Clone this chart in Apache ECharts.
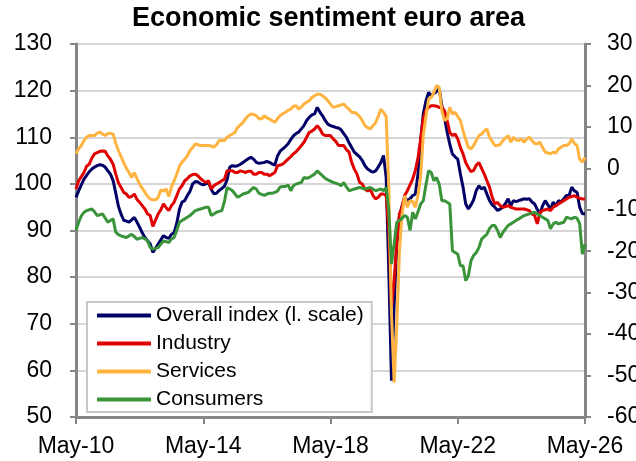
<!DOCTYPE html>
<html>
<head>
<meta charset="utf-8">
<script src="https://cdn.jsdelivr.net/npm/echarts@6.0.0/dist/echarts.min.js"></script>
<style>
  html, body { margin: 0; padding: 0; background: #fff; }
  #chart { width: 636px; height: 461px; }
</style>
</head>
<body>
<div id="chart"></div>
<script>
// monthly, May-10 .. May-26
var monthNames = ['Jan', 'Feb', 'Mar', 'Apr', 'May', 'Jun', 'Jul', 'Aug', 'Sep', 'Oct', 'Nov', 'Dec']
var categories = []
for (var i = 0; i < 193; i++) {
    var k = 4 + i
    categories.push(monthNames[k % 12] + '-' + String(10 + Math.floor(k / 12)).padStart(2, '0'))
}

// overall index (left scale)
var overall = [
    97.1, 98.5, 99.8, 101.0, 101.8, 102.6, 103.2, 103.6,
    103.9, 104.1, 104.0, 103.6, 102.8, 102.1, 100.7, 98.0, 95.2, 93.5, 92.2, 92.0,
    91.8, 92.3, 92.8, 91.8, 90.7, 89.5, 88.5, 87.8, 87.1, 85.3, 86.2, 87.1,
    88.0, 88.9, 88.5, 88.3, 89.2, 89.5, 91.5, 94.5, 96.1, 96.4, 97.5, 98.4,
    100.0, 100.5, 100.4, 100.0, 99.8, 100.0, 100.3, 98.8, 97.9, 98.0, 98.6, 99.0,
    99.5, 100.9, 103.6, 103.9, 103.8, 103.9, 104.2, 104.6, 105.0, 105.4, 105.7, 105.3,
    104.6, 104.4, 104.5, 104.6, 104.8, 104.6, 104.3, 104.0, 106.0, 107.0, 107.5, 108.0,
    108.6, 109.5, 110.3, 110.8, 111.1, 111.8, 112.5, 113.6, 114.3, 114.8, 115.0, 116.4,
    115.4, 114.6, 113.6, 112.8, 112.5, 112.3, 112.1, 112.0, 111.6, 110.8, 110.0, 108.8,
    107.8, 106.8, 106.3, 105.8, 105.0, 103.9, 103.2, 102.8, 102.5, 102.8, 103.6, 104.6,
    106.1, 101.4, 81.0, 57.8, 74.0, 87.0, 93.0, 95.3, 97.1, 96.4, 96.8, 97.5,
    97.8, 102.1, 109.3, 115.0, 117.8, 119.6, 118.9, 119.4, 119.8, 120.4, 116.8, 114.3,
    111.1, 108.5, 106.4, 105.8, 105.3, 102.1, 99.3, 95.7, 94.6, 95.5, 96.6, 98.6,
    99.6, 98.9, 99.3, 97.8, 96.4, 95.5, 95.0, 94.3, 94.6, 95.0, 95.8, 96.8,
    95.3, 96.4, 96.2, 96.4, 96.6, 96.8, 96.7, 96.8, 96.1, 95.7, 94.5, 93.6,
    95.3, 96.4, 95.5, 94.6, 96.1, 95.3, 96.4, 96.1, 96.8, 97.5, 97.5, 99.3,
    98.5, 98.2, 95.0, 93.6, 93.6
]

// balances (right scale)
var industry = [
    -5.0, -3.0, -2.0, -1.0, 0.5, 1.0, 2.5, 3.5,
    3.8, 4.1, 4.2, 4.1, 3.0, 2.2, 1.0, -1.4, -3.5, -4.6, -5.8, -6.2,
    -7.0, -6.8, -6.2, -7.5, -8.2, -9.0, -9.8, -11.0, -11.4, -14.0, -12.5, -11.0,
    -10.0, -8.6, -9.5, -10.2, -9.0, -8.2, -6.6, -5.0, -4.2, -3.0, -2.5, -1.8,
    -1.5, -1.4, -1.8, -2.5, -3.0, -3.4, -3.0, -5.0, -4.2, -3.8, -3.4, -3.0,
    -2.6, -0.6, -0.6, -0.6, -1.0, -1.0, -0.6, -0.8, -1.0, -0.7, -0.7, -1.4,
    -1.4, -1.0, -1.0, -1.4, -1.4, -1.8, -1.4, -1.0, 0.6, 0.8, 1.0, 1.6,
    2.2, 2.8, 3.5, 4.0, 4.7, 5.5, 6.3, 7.5, 8.7, 9.0, 9.5, 10.3,
    9.5, 8.3, 7.9, 7.9, 7.9, 7.1, 6.5, 5.5, 5.5, 5.5, 4.5, 3.9,
    1.4, -0.2, -1.4, -3.4, -3.8, -5.0, -5.5, -5.0, -6.5, -7.4, -7.0, -6.2,
    -6.2, -6.6, -15.0, -33.5, -27.0, -18.0, -11.0, -9.4, -6.5, -5.4, -4.0, -2.6,
    -0.5, 2.5, 7.0, 12.0, 14.0, 14.7, 15.1, 15.1, 15.0, 14.7, 14.7, 13.9,
    11.5, 8.7, 7.9, 8.3, 7.1, 5.0, 3.5, 1.4, 0.2, -0.8, -0.5, 0.8,
    1.4, 0.0, -1.4, -3.0, -4.6, -7.0, -8.6, -8.2, -9.0, -9.4, -9.2, -9.0,
    -9.4, -9.6, -9.8, -9.8, -9.8, -9.8, -10.0, -10.2, -11.0, -11.4, -13.4, -10.6,
    -10.2, -10.0, -9.8, -10.2, -9.4, -9.0, -8.6, -8.2, -7.8, -7.4, -7.0, -6.8,
    -6.6, -7.0, -7.2, -7.4, -7.4
]

var services = [
    3.5, 4.7, 5.5, 6.7, 7.5, 7.9, 7.9, 7.9,
    8.5, 8.7, 8.3, 7.9, 8.4, 8.4, 8.3, 6.0, 4.3, 2.8, 1.4, 0.0,
    -1.0, -2.2, -1.0, -2.5, -3.8, -4.8, -5.8, -6.8, -7.4, -7.6, -7.6, -7.0,
    -5.2, -5.5, -5.0, -6.8, -4.5, -3.0, -1.4, 0.5, 1.5, 2.2, 3.0, 4.3,
    5.0, 5.9, 5.7, 5.5, 5.5, 5.5, 5.5, 5.4, 5.1, 5.7, 6.7, 6.7,
    6.7, 7.5, 7.9, 8.3, 8.7, 9.9, 10.5, 11.1, 12.0, 12.7, 13.1, 13.0,
    12.7, 12.0, 11.9, 12.7, 12.2, 11.9, 11.5, 11.1, 12.0, 12.7, 13.2, 13.5,
    14.0, 14.3, 15.0, 15.1, 14.3, 14.8, 15.5, 16.0, 16.3, 17.1, 17.5, 17.9,
    17.9, 17.5, 17.0, 16.3, 15.5, 14.7, 14.9, 15.1, 15.3, 15.5, 14.8, 14.3,
    13.5, 13.5, 13.1, 12.5, 11.5, 10.3, 9.8, 9.5, 10.3, 11.0, 12.5, 14.3,
    13.5, 12.5, -5.0, -35.0, -51.7, -38.0, -20.0, -11.0, -6.6, -9.4, -7.8, -8.0,
    -9.4, -6.5, -2.0, 8.0, 12.5, 16.7, 17.1, 18.3, 20.0, 19.5, 13.9, 11.5,
    12.0, 14.7, 13.1, 13.5, 12.5, 11.5, 9.1, 7.0, 5.1, 4.7, 5.5, 6.7,
    7.9, 8.3, 9.0, 9.5, 7.5, 6.5, 5.5, 5.5, 5.8, 6.7, 7.3, 7.9,
    6.3, 7.5, 6.9, 6.7, 7.1, 6.3, 7.1, 7.5, 6.7, 6.0, 5.9, 6.3,
    5.0, 3.9, 3.7, 3.5, 3.9, 3.7, 4.7, 5.1, 5.5, 5.5, 5.9, 7.1,
    6.0, 5.5, 2.2, 1.5, 2.6
]

var consumers = [
    -15.0, -13.0, -11.5, -10.6, -10.2, -10.0, -9.8, -10.5,
    -11.4, -11.2, -11.0, -12.0, -13.0, -12.6, -12.2, -15.4, -16.0, -16.3, -16.5, -16.7,
    -16.3, -15.9, -16.5, -17.1, -16.9, -16.7, -17.0, -17.5, -19.1, -19.5, -19.3, -19.1,
    -18.3, -17.5, -17.7, -17.9, -17.0, -16.7, -15.0, -13.0, -12.6, -12.2, -11.8, -11.4,
    -10.8, -10.2, -10.0, -9.8, -9.6, -9.4, -9.4, -11.4, -11.0, -10.6, -10.4, -10.2,
    -8.0, -4.6, -5.0, -5.4, -6.2, -7.0, -6.6, -6.2, -6.0, -5.8, -5.2, -4.6,
    -5.0, -6.0, -6.3, -6.5, -6.2, -6.0, -6.0, -5.8, -5.5, -4.5, -4.4, -4.4,
    -4.0, -5.4, -4.2, -3.8, -3.6, -3.4, -2.2, -2.4, -2.2, -1.8, -1.4, -0.6,
    -1.2, -1.8, -2.4, -2.8, -3.1, -3.4, -3.6, -3.8, -4.2, -3.4, -4.5, -5.4,
    -5.2, -5.0, -4.8, -4.6, -4.8, -5.0, -4.8, -4.6, -5.0, -5.4, -5.2, -5.0,
    -5.4, -4.6, -10.2, -23.1, -18.3, -13.0, -12.6, -12.0, -11.4, -11.8, -15.0, -10.6,
    -12.2, -10.5, -8.6, -7.8, -4.0, -0.6, -1.0, -3.0, -2.2, -3.8, -7.8, -7.8,
    -8.2, -8.6, -19.9, -20.3, -20.7, -23.5, -23.5, -27.1, -25.9, -22.3, -21.0, -20.3,
    -19.1, -17.1, -16.5, -15.9, -14.5, -13.8, -13.8, -15.0, -16.7, -15.5, -14.6, -13.8,
    -13.4, -13.0, -12.6, -12.2, -11.8, -11.4, -11.2, -11.0, -10.8, -10.6, -11.0, -11.4,
    -11.8, -12.2, -12.6, -14.6, -13.4, -13.0, -13.4, -13.2, -13.0, -11.8, -12.0, -12.2,
    -11.8, -12.0, -13.4, -20.7, -18.3
]

var fontFamily = "'Liberation Sans', Arial, sans-serif"
var axisGrey = '#868686'

function every4Years(index) {
    return index % 48 === 0
}

var myChart = echarts.init(document.getElementById('chart'))
var option = {
    animation: false,
    backgroundColor: '#fff',
    title: {
        text: 'Economic sentiment euro area',
        left: 132,
        top: 5,
        padding: 0,
        textStyle: { fontFamily: fontFamily, fontSize: 27, fontWeight: 'bold', color: '#000' }
    },
    legend: {
        orient: 'vertical',
        left: 87,
        top: 302,
        padding: [3, 8, 2, 10],
        itemGap: 7,
        itemWidth: 54,
        itemHeight: 4,
        icon: 'rect',
        borderColor: '#c8c8c8',
        borderWidth: 2,
        backgroundColor: '#fff',
        textStyle: { fontFamily: fontFamily, fontSize: 21, lineHeight: 20, color: '#000' },
        data: ['Overall index (l. scale)', 'Industry', 'Services', 'Consumers']
    },
    grid: { left: 76, right: 51, top: 44, bottom: 44, outerBoundsMode: 'none' },
    xAxis: {
        type: 'category',
        boundaryGap: false,
        data: categories,
        axisLine: { onZero: false, lineStyle: { color: axisGrey, width: 3 } },
        axisTick: { interval: every4Years, length: 7, lineStyle: { color: axisGrey, width: 2 } },
        axisLabel: { interval: every4Years, margin: 18, fontFamily: fontFamily, fontSize: 23, color: '#000' },
        splitLine: { show: false }
    },
    yAxis: [
        {
            type: 'value',
            position: 'left',
            min: 50,
            max: 130,
            interval: 10,
            axisLine: { show: true, lineStyle: { color: axisGrey, width: 3 } },
            axisTick: { show: true, length: 6, lineStyle: { color: axisGrey, width: 2 } },
            axisLabel: { margin: 24, fontFamily: fontFamily, fontSize: 23, color: '#000' },
            splitLine: { lineStyle: { color: '#c8c8c8', width: 1.5 } }
        },
        {
            type: 'value',
            position: 'right',
            min: -60,
            max: 30,
            interval: 10,
            axisLine: { show: true, lineStyle: { color: axisGrey, width: 3 } },
            axisTick: { show: true, length: 6, lineStyle: { color: axisGrey, width: 2 } },
            axisLabel: { margin: 22, fontFamily: fontFamily, fontSize: 23, color: '#000' },
            splitLine: { show: false }
        }
    ],
    series: [
        {
            name: 'Overall index (l. scale)',
            type: 'line',
            yAxisIndex: 0,
            data: overall,
            showSymbol: false,
            color: '#000066',
            lineStyle: { width: 3 }
        },
        {
            name: 'Industry',
            type: 'line',
            yAxisIndex: 1,
            data: industry,
            showSymbol: false,
            color: '#e00000',
            lineStyle: { width: 3 }
        },
        {
            name: 'Services',
            type: 'line',
            yAxisIndex: 1,
            data: services,
            showSymbol: false,
            color: '#ffb340',
            lineStyle: { width: 3 }
        },
        {
            name: 'Consumers',
            type: 'line',
            yAxisIndex: 1,
            data: consumers,
            showSymbol: false,
            color: '#3a943a',
            lineStyle: { width: 3 }
        }
    ]
}
myChart.setOption(option)
</script>
</body>
</html>
